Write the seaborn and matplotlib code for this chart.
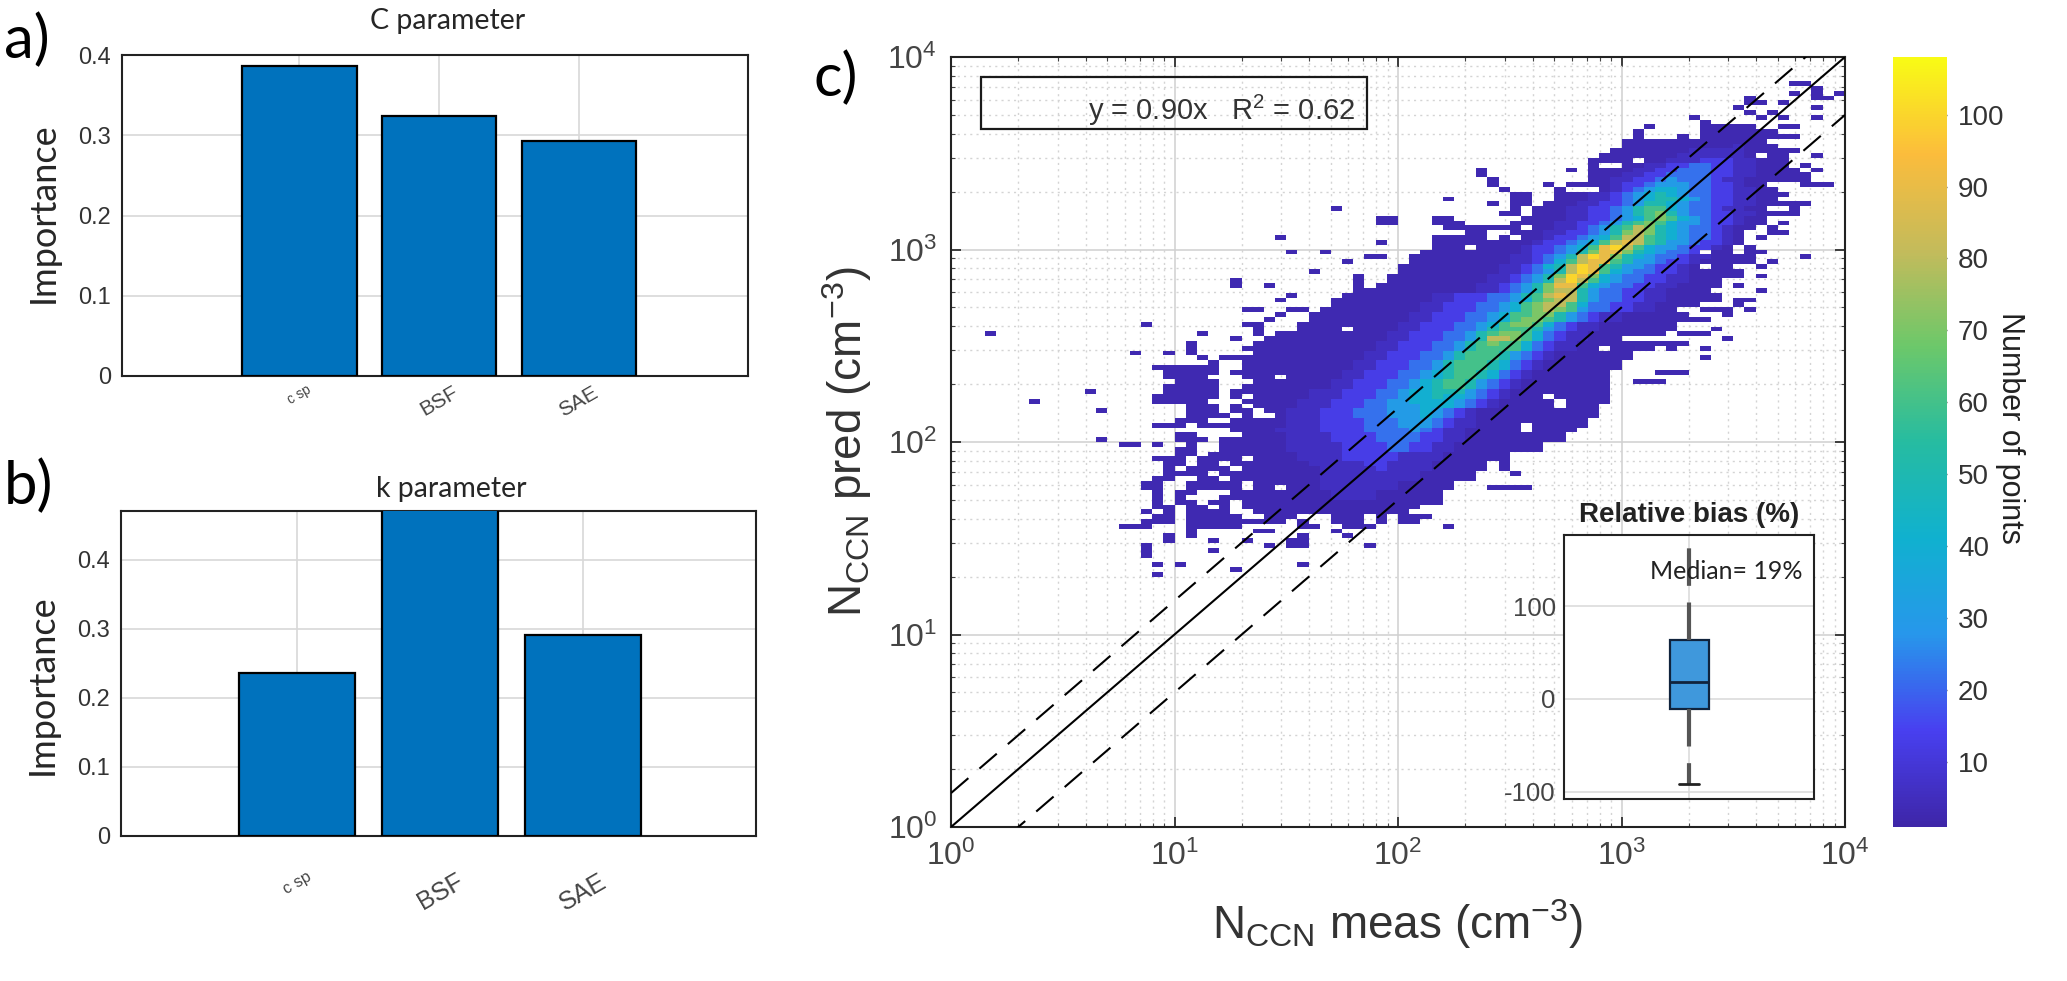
import numpy as np
import pandas as pd
import matplotlib
matplotlib.use("Agg")
import matplotlib.pyplot as plt
import seaborn as sns
from matplotlib.colors import LinearSegmentedColormap
from matplotlib.patches import Rectangle
from matplotlib.ticker import LogLocator, NullFormatter

W, H = 2067, 981

# bar charts
features = ['c sp', 'BSF', 'SAE']
c_importance = [0.386, 0.324, 0.293]
k_importance = [0.236, 0.60, 0.291]

# inset box: min, q1, median, q3, max
bias_values = [-92, -11, 18.5, 64, 300]

# reference lines of panel c
line_x = [1, 10000]
line_mid = [1, 10000]
line_up = [1.5, 15000]
line_low = [0.5, 5000]

# colour levels of the count grid, one character per cell
level_values = {'1': 3, '2': 6, '3': 13, '4': 22, '5': 30, '6': 40, '7': 50,
                '8': 60, '9': 70, 'a': 80, 'b': 90, 'c': 100}

# (row, first column, cells): 20 columns and 40 rows per decade
hist_rows = [
    (145, 68, "1111...1"), (144, 67, "1111111"), (143, 67, "111111"),
    (142, 60, "11111.1111111"), (141, 60, "11111111112111"),
    (140, 59, "1111111222221111"), (139, 58, "11111112222221.11"),
    (138, 57, "1111.1122233322111"), (137, 57, "1..112233443322111"),
    (136, 57, "111122334443322111"), (135, 57, "1112233444433221111"),
    (134, 57, "1122334544432211"), (133, 55, "111123345554433211"),
    (132, 54, "1...1234566544332211"), (131, 54, "11122345676544332211"),
    (130, 54, "11122345677654332211"),
    (129, 48, "1.11.111223345776544332211"), (128, 50, "1.111223345788654432211"),
    (127, 49, "11.1112233457897544332211"), (126, 51, "1111223345689865433211"),
    (125, 50, "11112233457898655433211"), (124, 52, "112234578a9765443211"),
    (123, 50, "11122334579a976544321"), (122, 43, "11111.1.112334568aa876544321"),
    (121, 43, "1111111112334568aba875543321"), (120, 43, "111.11112334568bca865543321"),
    (119, 42, "1111111112334579bb9765443.11"), (118, 41, "111111111223457acb97654432211"),
    (117, 41, "111111111223468abb875543321111"), (116, 40, "111111111223467acb875543321.11"),
    (115, 40, "111111111223457acb865443321111"), (114, 39, "1111111112234579cb9654433221111"),
    (113, 39, "111111111223457aca865443322111"), (112, 38, "1111111112234579bb8654433221111"),
    (111, 37, "11111111112234579aa754433221111"), (110, 35, "111111112233344578aba754433221111"),
    (109, 34, "11111111122333445689aa754433221111"), (108, 34, "1111111122333445689aa864433221111"),
    (107, 33, "11111111122333445689a98544332211"), (106, 32, "1111111112233344568899754322111111"),
    (105, 32, "111111111223334456899875432211111"), (104, 31, "1111111112233344568998643221111111"),
    (103, 31, "1111.11112233344578887543221111111"), (102, 29, "11111111112233344578998643221111111"),
    (101, 28, "11111111111223334457aa9864322111"), (100, 27, "111111111112233344578988643221111111"),
    (99, 26, "11111111111122333445788886432211.1111"), (98, 27, "1111111111223334457888754321111111"),
    (97, 22, "1.1111111111111223334457888754321111111"), (96, 23, "1..1111111111223334457888764321111111"),
    (95, 19, "11111..1111111111223334457888764321111111"), (94, 19, "11111.1111111111223334456788764321111111"),
    (93, 19, "1111...111.11111223334456788764321111111"), (92, 20, "1111...11111112233344567887543211111111"),
    (91, 19, "11111..111111112233344567887543211111111"), (90, 19, "11111.1111111222333445667775432111111111"),
    (89, 19, "11111.1.11111222333445667665432111.11111"), (88, 19, "1111...1111122233344556666543211111.1111"),
    (87, 21, "111.1.111122233344555666543211111.111"), (86, 21, "111.11.112223334445556543211111111111"),
    (85, 21, "1111.1..12223334445556543211111111111"), (84, 20, "111..11111222333344455543221111111111"),
    (83, 18, "111.11111111222333344455543221111.11111"), (82, 25, "11112222333344445432211111.1111"),
    (81, 20, "11....11112222333344443322111111111"), (80, 20, "111.1111112222333344443322111111111"),
    (79, 21, "1..11111122222333344332211111111"), (78, 20, "11..11111122222333344332211111111"),
    (77, 20, "11.111111112222333332222111111"), (76, 18, "111.1111.11112222333332222111111"),
    (75, 19, "11.11.11111112222233222211111"), (74, 19, "1.1111.1111111222223222211111"),
    (73, 19, "1111.11111111122222222211111"), (72, 18, "11..11.1111111122222222211111"),
    (71, 17, "11..11111.111111222222211111"), (70, 17, "11..11111.11.111222222211111"),
    (69, 18, "1.11...1111111112222111111"), (68, 18, "1.1...11111111112222111111"),
    (67, 18, "1.11.11.11111111111111111"), (66, 18, "11.11.1.1111111111111111"),
    (65, 17, "1.1.1111..11111111111111"), (64, 18, "11.11111..111...111.1.111"),
    (63, 17, "111.111111111.1..111.1.11"), (62, 21, "11111.....11..111"),
]

# lone cells around the main cloud (row, column)
lone_cells = [
    (154, 75), (154, 76), (152, 75), (153, 77), (152, 77), (151, 77), (151, 78), (152, 79),
    (149, 77), (147, 77), (147, 74), (145, 74), (143, 75), (143, 73), (143, 74), (140, 75),
    (139, 77), (150, 71), (151, 71), (149, 70), (148, 71), (150, 72), (147, 72), (148, 73),
    (150, 74), (147, 66), (146, 67), (145, 67), (145, 62), (144, 61), (143, 61), (143, 65),
    (142, 65), (142, 66), (138, 74), (136, 75), (137, 76), (135, 76), (136, 77), (134, 73),
    (134, 74), (134, 75), (134, 76), (133, 76), (133, 77), (133, 78), (132, 73), (131, 74),
    (129, 74), (129, 75), (129, 76), (128, 75), (127, 73), (127, 74), (127, 75), (125, 74),
    (124, 73), (123, 73), (123, 74), (122, 72), (120, 69), (120, 71), (119, 71), (119, 72),
    (118, 71), (118, 70), (118, 76), (117, 71), (117, 73), (116, 72), (115, 70), (114, 70),
    (114, 72), (112, 70), (111, 72), (110, 68), (109, 68), (109, 70), (108, 70), (109, 71),
    (107, 71), (107, 67), (107, 68), (107, 69), (106, 69), (105, 65), (105, 66), (105, 67),
    (103, 68), (101, 69), (103, 64), (102, 65), (102, 66), (102, 67), (100, 65), (99, 67),
    (97, 67), (100, 63), (100, 64), (99, 64), (94, 63), (94, 64), (94, 65), (92, 61),
    (92, 62), (92, 63), (136, 47), (135, 47), (134, 48), (133, 48), (132, 49), (133, 53),
    (131, 50), (131, 51), (130, 44), (130, 50), (130, 51), (129, 48), (126, 43), (126, 44),
    (125, 43), (125, 44), (125, 45), (124, 44), (124, 45), (124, 46), (124, 47), (124, 48),
    (124, 49), (124, 50), (123, 46), (123, 47), (136, 55), (102, 3), (88, 7), (90, 12),
    (86, 13), (80, 13), (79, 15), (79, 16), (79, 18), (98, 16), (98, 19), (98, 21), (99, 21),
    (100, 21), (95, 18), (89, 18), (88, 18), (104, 17), (102, 22), (112, 25), (113, 25),
    (112, 28), (122, 29), (128, 34), (119, 30), (119, 33), (117, 35), (125, 38), (126, 38),
    (125, 39), (126, 39), (121, 38), (118, 37), (118, 38), (115, 32), (110, 36), (111, 36),
    (112, 36), (113, 36), (114, 36), (110, 30), (109, 29), (107, 26), (107, 27), (106, 29),
    (104, 26), (104, 27), (105, 28), (102, 27), (103, 27), (101, 25), (100, 29), (100, 30),
    (107, 31), (107, 30), (62, 15), (62, 16), (62, 17), (57, 17), (58, 17), (56, 17), (59, 19),
    (60, 19), (60, 21), (61, 21), (59, 23), (57, 23), (53, 25), (59, 26), (58, 28), (59, 30),
    (59, 31), (58, 30), (58, 31), (60, 31), (54, 31), (61, 34), (63, 38), (58, 37), (60, 35),
    (54, 20), (54, 18), (52, 18), (61, 27), (61, 28), (62, 44), (67, 43), (71, 44), (72, 44),
    (72, 46), (75, 49), (74, 49), (73, 50), (70, 48), (70, 49), (70, 50), (70, 51),
]

parula_colors = ['#3e26a8', '#4840f0', '#2797eb', '#10b1cf', '#26bca1',
                 '#6cc86a', '#c4bb5b', '#fbbc3c', '#f9fb15']

sns.set_theme(style='white')
plt.rcParams['font.family'] = ['Liberation Sans', 'DejaVu Sans']
plt.rcParams['mathtext.fontset'] = 'custom'
plt.rcParams['mathtext.rm'] = 'Liberation Sans'
plt.rcParams['axes.linewidth'] = 1.5
plt.rcParams['axes.edgecolor'] = '#222222'

fig = plt.figure(figsize=(W / 100, H / 100), dpi=100)


def box(left, top, right, bottom):
    return [left / W, 1 - bottom / H, (right - left) / W, (bottom - top) / H]


def bar_panel(rect, values, ylim, xlim, title, width, title_pad, label_y, label_size, label_pad):
    ax = fig.add_axes(rect)
    sns.barplot(x=features, y=values, color='#0072BD', saturation=1, width=width,
                edgecolor='black', linewidth=1.6, ax=ax, zorder=3)
    ax.set_xlim(*xlim)
    ax.set_ylim(*ylim)
    ax.set_yticks([0, 0.1, 0.2, 0.3, 0.4])
    ax.set_yticklabels(['0', '0.1', '0.2', '0.3', '0.4'], fontsize=17, color='#333333')
    ax.set_ylabel('Importance', fontsize=26, family='Lato', labelpad=13, y=label_y)
    ax.set_title(title, fontsize=20.5, family='Lato', pad=title_pad, x=0.52)
    ax.grid(True, color='#d8d8d8', lw=1.2)
    ax.set_axisbelow(True)
    ax.tick_params(axis='both', direction='in', length=5, width=1.2, colors='#222222')
    ax.tick_params(axis='y', labelcolor='#333333', pad=8)
    ax.set_xticks(range(3))
    ax.set_xticklabels(features, rotation=30, fontsize=label_size, color='#444444')
    ax.get_xticklabels()[0].set_fontsize(label_size * 0.65)
    ax.tick_params(axis='x', pad=label_pad, length=0)
    for side in ax.spines.values():
        side.set_visible(True)
    return ax


bar_panel(box(122, 55, 748, 376), c_importance, (0, 0.4), (-1.27, 3.21),
          'C parameter', 0.82, 19, 0.51, 15, 5)
bar_panel(box(121, 511, 756, 836), k_importance, (0, 0.471), (-1.228, 3.206),
          'k parameter', 0.81, 10, 0.465, 18, 24)

# panel c, the count grid goes through histplot as weighted cells
cols, rows, counts = [], [], []
for row, first, cells in hist_rows:
    for i, ch in enumerate(cells):
        if ch != '.':
            rows.append(row)
            cols.append(first + i)
            counts.append(level_values[ch])
for row, col in lone_cells:
    rows.append(row)
    cols.append(col)
    counts.append(level_values['1'])

cells_df = pd.DataFrame({'col': cols, 'row': rows, 'count': counts})
cells_df = cells_df.groupby(['col', 'row'], as_index=False)['count'].max()
cells_df['meas'] = 10 ** ((cells_df['col'] + 0.5) / 20)
cells_df['pred'] = 10 ** ((cells_df['row'] + 0.5) / 40)

parula = LinearSegmentedColormap.from_list('parula_like', parula_colors)
ax = fig.add_axes(box(951, 57, 1845, 827))
cax = fig.add_axes(box(1893, 57, 1947, 827))
sns.histplot(data=cells_df, x='meas', y='pred', weights='count', bins=(80, 160),
             binrange=((0, 4), (0, 4)), log_scale=True, cmap=parula, vmin=1, vmax=108,
             cbar=True, cbar_ax=cax, ax=ax, zorder=2)
ax.set_xlim(1, 10000)
ax.set_ylim(1, 10000)
ax.set_xlabel(r'$\mathrm{N_{CCN}}$ meas (cm$^{-3}$)', fontsize=33, color='#333333', labelpad=18)
ax.set_ylabel(r'$\mathrm{N_{CCN}}$ pred (cm$^{-3}$)', fontsize=33, color='#333333', labelpad=10)
for axis in (ax.xaxis, ax.yaxis):
    axis.set_major_locator(LogLocator(base=10, numticks=6))
    axis.set_minor_locator(LogLocator(base=10, subs=range(2, 10), numticks=6))
    axis.set_minor_formatter(NullFormatter())
ax.grid(True, which='major', color='#d0d0d0', lw=1.1, zorder=0)
ax.grid(True, which='minor', color='#d4d4d4', lw=1, ls=(0, (1.5, 3)), zorder=0)
ax.set_axisbelow(True)
ax.tick_params(which='major', direction='in', length=7, width=1.2, labelsize=23,
               labelcolor='#444444', color='#222222', bottom=True, left=True, top=True, right=True, pad=10)
ax.tick_params(which='minor', direction='in', length=3, width=0.8, color='#444444',
               bottom=True, left=True, top=True, right=True)
for side in ax.spines.values():
    side.set_visible(True)
    side.set_color('#222222')

long_dash = (0, (11, 7))
sns.lineplot(x=line_x, y=line_mid, color='black', lw=1.5, ax=ax, zorder=4)
sns.lineplot(x=line_x, y=line_up, color='black', lw=1.5, ax=ax, zorder=4, linestyle=long_dash)
sns.lineplot(x=line_x, y=line_low, color='black', lw=1.5, ax=ax, zorder=4, linestyle=long_dash)

fig.add_artist(Rectangle((981 / W, 1 - 129 / H), 386 / W, 52 / H, transform=fig.transFigure,
                         fill=False, ec='#1a1a1a', lw=1.6))
fig.text(1355 / W, 1 - 120 / H, r'y = 0.90x   R$^2$ = 0.62', ha='right', va='baseline',
         fontsize=21, color='#333333')

# colorbar
cax.set_yticks(range(10, 101, 10))
cax.tick_params(axis='y', direction='in', right=True, labelsize=20, labelcolor='#333333',
                length=6, width=1, color='#555555', pad=8)
cax.yaxis.set_ticks_position('right')
cax.minorticks_off()
for side in cax.spines.values():
    side.set_visible(False)
fig.text(2010 / W, 1 - 428 / H, 'Number of points', rotation=-90, ha='center', va='center',
         fontsize=22, color='#222222')

# inset boxplot
inset = fig.add_axes(box(1564, 535, 1814, 799), zorder=6)
sns.boxplot(y=bias_values, whis=(0, 100), width=0.156, color='#3f98dc', saturation=1,
            linecolor='#10233c', linewidth=1.6, fliersize=0, ax=inset,
            whiskerprops={'color': '#555555', 'linestyle': (0, (9, 4)), 'linewidth': 3},
            medianprops={'color': '#10233c', 'linewidth': 2},
            capprops={'color': '#222222', 'linewidth': 2})
inset.set_xlim(-0.5, 0.5)
inset.set_ylim(-108, 177)
inset.set_yticks([-100, 0, 100])
inset.set_yticklabels(['-100', '0', '100'], fontsize=18.5, color='#444444')
inset.set_xticks([0])
inset.set_xticklabels([''])
inset.set_ylabel('')
inset.grid(True, color='#d8d8d8', lw=1.1)
inset.set_axisbelow(True)
inset.tick_params(axis='y', direction='in', length=4, width=1, pad=6)
inset.tick_params(axis='x', length=0)
inset.set_title('Relative bias (%)', fontsize=20, fontweight='bold', color='#222222', pad=9)
for side in inset.spines.values():
    side.set_visible(True)
    side.set_color('#222222')
inset.text(0.648, 0.86, 'Median= 19%', transform=inset.transAxes, ha='center', va='center',
           fontsize=18, family='Lato', color='#222222')

# panel letters
for letter, px, py in [('a)', 4, 40), ('b)', 4, 486), ('c)', 814, 78)]:
    fig.text(px / W, 1 - py / H, letter, ha='left', va='center', fontsize=43, family='Lato', color='black')

fig.savefig('out.png', dpi=100)
